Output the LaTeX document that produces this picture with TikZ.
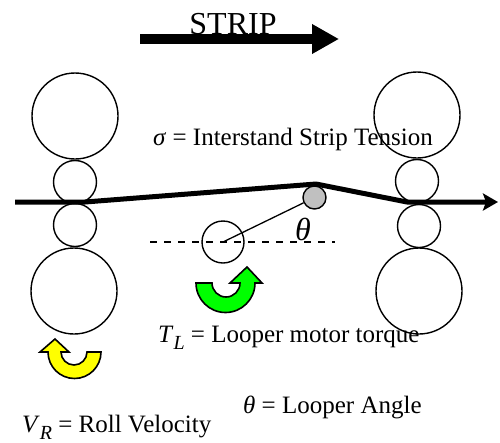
\documentclass[tikz,border=0pt]{standalone}
\usepackage{fontspec}
\setmainfont{Liberation Serif}
\usepackage{tikz}
\usetikzlibrary{arrows.meta}
\definecolor{loopgray}{RGB}{192,192,192}
\definecolor{turngreen}{RGB}{0,255,0}
\definecolor{turnyellow}{RGB}{255,255,0}
\tikzset{
  roll/.style={draw, circle, line width=1.4pt, minimum size=#1, inner sep=0pt},
  lbl/.style={font=\fontsize{25}{28}\selectfont, inner sep=0pt, anchor=base west},
  turn/.style={draw, line width=1.6pt, line join=miter}
}
\newcommand{\mvar}[1]{\textit{#1}}
\newcommand{\subvar}[2]{\textit{#1}\raisebox{-0.28em}{\fontsize{20}{22}\selectfont\textit{#2}}}
\begin{document}
\begin{tikzpicture}[x=1pt, y=-1pt]
\useasboundingbox (0,0) rectangle (500,442);

% Left stand
\node[roll=86pt] (lt) at (75,116) {};
\node[roll=43pt] (lu) at (75,182) {};
\node[roll=43pt] (ll) at (75,225) {};
\node[roll=86pt] (lb) at (74,291) {};

% Right stand
\node[roll=86pt] (rt) at (417,115) {};
\node[roll=43pt] (ru) at (417,181) {};
\node[roll=43pt] (rl) at (419,226) {};
\node[roll=86pt] (rb) at (419,291) {};

% Strip
\coordinate (s0) at (15,202);
\coordinate (s1) at (85,202);
\coordinate (s2) at (316,184);
\coordinate (s3) at (407,202);
\coordinate (s4) at (498,202);
\draw[line width=5pt, line join=round, -{Stealth[length=15pt, width=17pt, inset=3pt]}] (s0) -- (s1) -- (s2) -- (s3) -- (s4);

% Looper
\coordinate (dl) at (150,242);
\coordinate (dr) at (335,242);
\draw[line width=1.3pt, dash pattern=on 7pt off 7pt] (dl) -- (dr);
\node[roll=42pt] (pivot) at (223,242) {};
\node[roll=23pt, fill=loopgray] (head) at (314.5,197.5) {};
\draw[line width=1.3pt] (pivot.center) -- (head);

% Top arrow
\node[font=\fontsize{32}{34}\selectfont, inner sep=0pt] (strip) at (233,24) {STRIP};
\coordinate (a0) at (140,39);
\coordinate (a1) at (339,39);
\draw[line width=9.5pt, -{Triangle[length=27pt, width=28pt]}] (a0) -- (a1);

% Turning arrows
\draw[turn, fill=turngreen] (196,283) -- (212,283)
  arc[start angle=180, end angle=360, radius=14pt] -- (230,283) -- (247,267) -- (262,283) -- (255,283)
  arc[start angle=0, end angle=-180, radius=29.5pt] -- cycle;
\draw[turn, fill=turnyellow] (48,352) -- (40,352) -- (55,339) -- (69,352) -- (61,352)
  arc[start angle=180, end angle=360, radius=13pt] -- (101,352)
  arc[start angle=0, end angle=-180, radius=26.5pt] -- cycle;

% Labels
\node[lbl] (sig) at (153,145) {\mvar{σ} = Interstand Strip Tension};
\node[font=\fontsize{32}{34}\selectfont, inner sep=0pt] (th) at (303,229) {\mvar{θ}};
\node[lbl] (tl) at (158,342) {\subvar{T}{L} = Looper motor torque};
\node[lbl] (ang) at (243,413) {\mvar{θ} = Looper Angle};
\node[lbl] (vr) at (22,432) {\subvar{V}{R} = Roll Velocity};
\end{tikzpicture}
\end{document}
